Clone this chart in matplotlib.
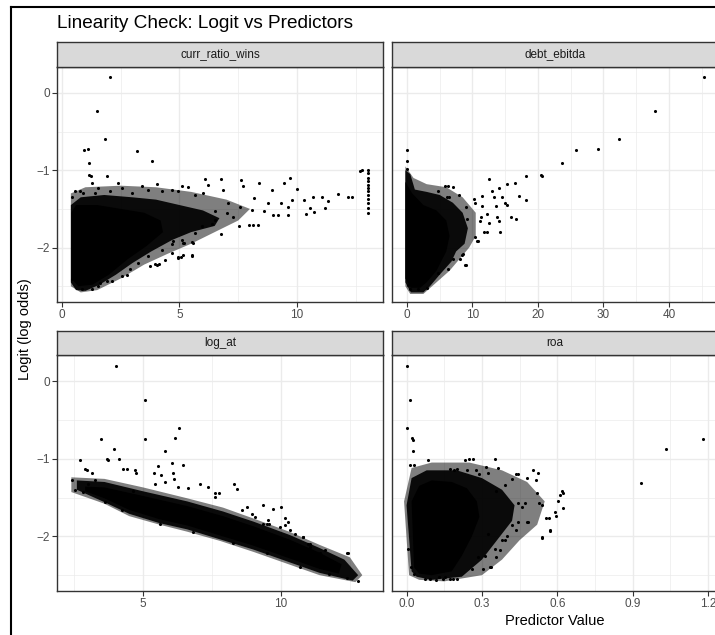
import numpy as np
import matplotlib.pyplot as plt
from matplotlib.lines import Line2D

plt.rcParams['font.family'] = ['Liberation Sans', 'DejaVu Sans']

# ---- data ----
panel_names = ["curr_ratio_wins", "debt_ebitda", "log_at", "roa"]

# clouds: solid core, dark speckled zone, sparse outer zone (outlines)
curr_ratio_core = [(0.40, -2.40), (0.40, -1.55), (0.6, -1.45), (1.5, -1.45), (2.5, -1.50),
                   (3.5, -1.55), (4.2, -1.65), (4.3, -1.80), (3.6, -1.98), (2.8, -2.15),
                   (2.0, -2.35), (1.3, -2.48), (0.7, -2.50)]
curr_ratio_halo = [(0.38, -2.45), (0.38, -1.45), (0.8, -1.35), (1.8, -1.32), (3.0, -1.35),
                   (4.0, -1.38), (5.0, -1.45), (6.0, -1.52), (6.7, -1.62), (6.5, -1.72),
                   (5.5, -1.80), (4.7, -1.90), (3.8, -2.05), (3.0, -2.20), (2.3, -2.35),
                   (1.6, -2.48), (1.0, -2.56), (0.6, -2.55)]
curr_ratio_outer = [(0.38, -2.50), (0.38, -1.30), (1.0, -1.22), (2.5, -1.20), (4.0, -1.22),
                    (5.5, -1.28), (7.0, -1.38), (8.0, -1.50), (7.5, -1.65), (6.5, -1.80),
                    (5.5, -1.95), (4.5, -2.08), (3.5, -2.22), (2.5, -2.40), (1.5, -2.55),
                    (0.8, -2.58)]
curr_ratio_points = [
    (2.04, 0.20), (1.48, -0.23), (1.83, -0.60), (0.95, -0.74), (1.10, -0.72), (1.16, -0.90),
    (3.19, -0.75), (3.84, -0.88), (1.16, -1.06), (1.23, -1.08), (1.90, -1.08),
    (12.68, -1.015), (12.75, -1.00),
    (13.03, -0.994), (13.03, -1.037), (13.03, -1.101), (13.03, -1.144), (13.03, -1.187),
    (13.03, -1.230), (13.03, -1.273), (13.03, -1.316), (13.03, -1.372), (13.03, -1.423),
    (13.03, -1.488), (13.03, -1.552),
    (6.09, -1.11), (6.76, -1.11), (7.61, -1.12), (8.38, -1.17), (9.46, -1.16), (9.70, -1.10),
    (9.98, -1.24), (8.92, -1.26), (7.72, -1.21), (6.86, -1.25), (6.23, -1.19), (11.73, -1.31),
    (12.18, -1.35), (12.33, -1.35), (10.70, -1.35), (11.05, -1.35), (11.30, -1.40),
    (10.31, -1.39), (9.80, -1.39), (9.32, -1.42), (9.63, -1.47), (8.78, -1.42), (8.19, -1.36),
    (8.07, -1.51), (8.61, -1.53), (8.99, -1.58), (9.18, -1.58), (9.63, -1.58), (10.37, -1.57),
    (10.55, -1.49), (10.74, -1.54), (11.19, -1.49), (8.33, -1.71), (8.14, -1.71), (7.97, -1.71),
    (7.55, -1.72), (7.29, -1.60), (7.01, -1.55), (6.77, -1.83), (7.57, -1.47), (7.08, -1.42),
    (6.51, -1.53), (5.52, -2.11), (5.07, -2.12), (4.95, -2.12), (4.67, -2.07), (4.13, -2.21),
    (3.96, -2.21), (4.38, -2.16), (5.52, -1.93), (5.20, -1.94),
    (2.40, -1.17), (2.54, -1.23), (3.42, -1.21), (4.03, -1.18), (4.67, -1.25), (5.09, -1.20),
    (5.38, -1.22), (1.55, -1.23), (1.26, -1.17), (0.41, -1.35), (0.77, -1.27),
    (0.55, -1.27), (0.91, -1.29), (1.40, -1.29), (2.04, -1.27), (2.96, -1.29), (3.67, -1.25),
    (4.24, -1.27), (4.95, -1.27), (5.66, -1.32), (6.01, -1.29),
    (6.51, -1.64), (6.37, -1.70), (5.94, -1.72), (5.66, -1.81), (5.09, -1.90), (4.67, -1.96),
    (4.24, -2.03), (3.67, -2.11), (3.25, -2.20), (2.89, -2.28), (2.54, -2.37), (2.11, -2.43),
    (1.55, -2.50), (1.26, -2.54), (0.84, -2.54), (0.41, -2.41), (1.62, -2.46), (1.90, -2.43),
    (2.75, -2.35), (3.74, -2.24), (4.03, -2.22), (4.95, -2.13), (5.16, -2.09), (5.52, -2.09),
    (5.59, -1.94), (5.16, -1.94), (4.74, -1.92)]

debt_ebitda_core = [(-0.25, -2.40), (-0.25, -1.15), (0.8, -1.30), (2.5, -1.45), (4.5, -1.52),
                    (6.0, -1.65), (6.5, -1.85), (6.0, -2.05), (4.5, -2.30), (3.0, -2.45),
                    (2.0, -2.52), (0.6, -2.52)]
debt_ebitda_halo = [(-0.25, -2.45), (-0.25, -1.0), (0.5, -1.05), (1.2, -1.25), (3.0, -1.28),
                    (5.0, -1.32), (7.0, -1.42), (8.5, -1.55), (9.3, -1.75), (8.8, -1.95),
                    (7.5, -2.05), (6.8, -2.18), (5.0, -2.35), (3.5, -2.50), (2.5, -2.58),
                    (0.6, -2.58)]
debt_ebitda_outer = [(-0.25, -2.50), (-0.25, -0.95), (1.0, -1.10), (3.0, -1.18), (6.0, -1.22),
                     (8.5, -1.35), (10.5, -1.55), (10.5, -1.85), (9.5, -2.00), (8.0, -2.15),
                     (6.5, -2.30), (4.5, -2.45), (2.5, -2.60), (0.5, -2.60)]
debt_ebitda_points = [
    (45.34, 0.20), (37.91, -0.23), (32.32, -0.59), (29.21, -0.72), (25.75, -0.74), (23.71, -0.90),
    (20.56, -1.08), (20.40, -1.06), (18.17, -1.08), (16.48, -1.17), (15.22, -1.18), (14.05, -1.23),
    (12.57, -1.11), (12.93, -1.27), (17.15, -1.33), (18.17, -1.38), (14.45, -1.35), (13.28, -1.35),
    (11.40, -1.33), (10.23, -1.37), (10.38, -1.43), (11.40, -1.46), (13.59, -1.46), (14.97, -1.42),
    (15.32, -1.45), (12.17, -1.57), (11.25, -1.60), (13.69, -1.61), (14.10, -1.65), (15.83, -1.60),
    (16.59, -1.63), (12.57, -1.68), (11.20, -1.66), (11.76, -1.80), (12.17, -1.80), (14.20, -1.80),
    (10.74, -1.92), (10.38, -1.86), (8.60, -2.08), (9.01, -2.22), (8.09, -2.15),
    (5.80, -1.21), (6.31, -1.20), (6.97, -1.22), (4.78, -1.27), (7.99, -1.32), (6.06, -1.35),
    (6.46, -1.35), (-0.05, -0.74), (-0.05, -0.88), (0.05, -0.99), (9.01, -1.47), (9.22, -1.63),
    (8.85, -2.22), (8.35, -2.09), (7.07, -2.15), (6.31, -2.28), (4.78, -2.33), (3.00, -2.52),
    (1.73, -2.54), (0.46, -2.54), (0.10, -2.48), (10.89, -1.92)]

log_at_core = [(2.9, -1.36), (3.6, -1.37), (5.0, -1.48), (6.6, -1.61), (7.9, -1.74), (9.0, -1.87),
               (10.3, -2.04), (11.4, -2.21), (12.2, -2.36), (12.1, -2.48), (11.4, -2.42),
               (10.2, -2.27), (9.0, -2.12), (7.8, -1.99), (6.6, -1.86), (5.6, -1.78),
               (4.5, -1.66), (3.6, -1.51), (2.9, -1.42)]
log_at_halo = [(2.6, -1.28), (3.6, -1.30), (5.0, -1.42), (6.6, -1.55), (7.9, -1.68), (9.0, -1.81),
               (10.3, -1.98), (11.4, -2.15), (12.3, -2.30), (12.8, -2.50), (12.6, -2.57),
               (11.4, -2.47), (10.2, -2.32), (9.0, -2.17), (7.8, -2.04), (6.6, -1.91),
               (5.6, -1.83), (4.5, -1.71), (3.6, -1.56), (2.6, -1.40)]
log_at_outer = [(2.4, -1.24), (3.6, -1.26), (5.0, -1.37), (6.6, -1.51), (7.9, -1.63), (9.0, -1.77),
                (10.3, -1.94), (11.4, -2.11), (12.5, -2.27), (12.95, -2.50), (12.7, -2.59),
                (11.4, -2.50), (10.2, -2.35), (9.0, -2.20), (7.8, -2.06), (6.6, -1.94),
                (5.6, -1.85), (4.5, -1.74), (3.6, -1.58), (2.4, -1.43)]
log_at_points = [
    (4.02, 0.19), (5.07, -0.24), (6.30, -0.60), (6.16, -0.73), (5.07, -0.75), (3.47, -0.75),
    (5.78, -0.90), (3.96, -0.88), (3.68, -1.00), (3.74, -1.02), (4.11, -1.01), (2.72, -1.02),
    (6.06, -1.06), (6.46, -1.08), (4.29, -1.13), (4.41, -1.13), (5.53, -1.10), (4.71, -1.15),
    (4.73, -1.18), (2.42, -1.28), (2.54, -1.40), (2.88, -1.13), (2.96, -1.15), (6.10, -1.18),
    (6.13, -1.26), (7.07, -1.32), (7.37, -1.36), (8.31, -1.33), (8.40, -1.39), (9.36, -1.60),
    (9.72, -1.65), (10.00, -1.62), (10.15, -1.76), (10.27, -1.82), (10.81, -2.01), (11.06, -2.10),
    (11.60, -2.18), (12.38, -2.22), (12.44, -2.22), (7.62, -1.49), (7.74, -1.44), (8.77, -1.62),
    (9.07, -1.75), (8.95, -1.71), (9.55, -1.84), (5.40, -1.19), (5.64, -1.21), (6.25, -1.36),
    (12.80, -2.57), (11.73, -2.48), (12.39, -2.54), (11.42, -2.22), (11.05, -2.14), (10.80, -2.01),
    (10.14, -1.86), (9.96, -1.88), (9.36, -1.84), (9.48, -1.84), (10.33, -1.92),
    (3.02, -1.32), (3.26, -1.28), (3.14, -1.19), (4.65, -1.41), (5.43, -1.32), (5.79, -1.30),
    (6.64, -1.38), (7.61, -1.44), (8.58, -1.66), (9.54, -1.79), (10.51, -1.97), (10.99, -2.10),
    (5.62, -1.84), (6.82, -1.94), (8.27, -2.09), (9.48, -2.22), (10.69, -2.40),
    (2.84, -1.43), (3.62, -1.56), (4.22, -1.66)]

roa_core = [(0.03, -2.40), (0.02, -1.55), (0.05, -1.35), (0.10, -1.28), (0.18, -1.30),
            (0.24, -1.38), (0.28, -1.55), (0.29, -1.75), (0.26, -2.00), (0.22, -2.25),
            (0.18, -2.45), (0.10, -2.50), (0.05, -2.48)]
roa_halo = [(0.02, -2.45), (0.00, -1.60), (0.02, -1.25), (0.08, -1.15), (0.20, -1.15),
            (0.30, -1.25), (0.38, -1.40), (0.43, -1.60), (0.42, -1.80), (0.36, -2.05),
            (0.30, -2.30), (0.22, -2.52), (0.10, -2.56), (0.04, -2.52)]
roa_outer = [(0.01, -2.50), (-0.01, -1.55), (0.02, -1.12), (0.10, -1.05), (0.25, -1.05),
             (0.38, -1.15), (0.48, -1.30), (0.55, -1.55), (0.52, -1.85), (0.45, -2.05),
             (0.38, -2.30), (0.30, -2.50), (0.15, -2.58), (0.05, -2.56)]
roa_points = [
    (0.000, 0.19), (0.013, -0.24), (0.003, -0.60), (0.020, -0.74), (0.024, -0.76), (0.024, -0.90),
    (1.18, -0.75), (1.033, -0.88), (0.933, -1.31), (0.086, -1.02), (0.013, -1.08), (0.030, -1.08),
    (0.248, -1.00), (0.265, -1.00), (0.232, -1.02), (0.352, -1.01), (0.318, -1.11), (0.365, -1.12),
    (0.199, -1.13), (0.172, -1.13), (0.188, -1.14), (0.239, -1.15), (0.275, -1.15), (0.289, -1.20),
    (0.325, -1.19), (0.436, -1.20), (0.445, -1.20), (0.502, -1.15), (0.522, -1.19), (0.478, -1.25),
    (0.515, -1.27), (0.418, -1.26), (0.392, -1.34), (0.358, -1.41), (0.617, -1.41), (0.624, -1.44),
    (0.611, -1.47), (0.604, -1.54), (0.624, -1.64), (0.528, -1.57), (0.541, -1.60), (0.591, -1.69),
    (0.595, -1.74), (0.555, -1.77), (0.568, -1.77), (0.571, -1.92), (0.540, -2.02), (0.471, -1.57),
    (0.484, -1.82), (0.518, -1.44), (0.445, -1.57), (0.458, -1.62), (0.435, -1.92), (0.392, -2.05),
    (0.372, -2.18), (0.358, -2.27), (0.538, -2.01), (0.571, -1.93), (0.478, -1.82), (0.445, -1.82),
    (0.418, -1.86), (0.325, -1.97), (0.312, -2.25), (0.332, -2.40), (0.305, -2.42), (0.335, -2.40),
    (0.259, -2.42), (0.199, -2.55), (0.186, -2.55), (0.073, -2.55), (0.093, -2.55), (0.119, -2.56),
    (0.146, -2.55), (0.172, -2.55), (0.130, -2.52), (0.155, -2.52), (0.006, -2.16), (0.019, -2.40),
    (0.030, -2.48), (0.378, -2.05), (0.398, -1.99), (0.352, -2.16), (0.285, -2.27)]

x_ticks = [[0, 5, 10], [0, 10, 20, 30, 40], [5, 10], [0.0, 0.3, 0.6, 0.9, 1.2]]
x_ticklabels = [["0", "5", "10"], ["0", "10", "20", "30", "40"], ["5", "10"],
                ["0.0", "0.3", "0.6", "0.9", "1.2"]]
x_minor = [[2.5, 7.5, 12.5], [5, 15, 25, 35, 45], [2.5, 7.5, 12.5], [0.15, 0.45, 0.75, 1.05]]
y_ticks = [0, -1, -2]
y_minor = [-0.5, -1.5, -2.5]

# ---- layout (pixels) ----
W, H = 715, 635
x_lims = [(-0.21, 13.66), (-2.29, 47.5), (1.88, 13.70), (-0.058, 1.24)]
y_lim = (-2.70, 0.335)
cols = [(57, 383), (392, 718)]
rows = [(67, 301.7), (355, 590.7)]
strips = [(42, 67), (331, 355)]

DARK = "#333333"
GRID = "#EBEBEB"


def px_rect(x0, y0, x1, y1):
    return [x0 / W, 1 - y1 / H, (x1 - x0) / W, (y1 - y0) / H]


fig = plt.figure(figsize=(W / 100, H / 100), dpi=100)
fig.patch.set_facecolor("white")

all_outer = [curr_ratio_outer, debt_ebitda_outer, log_at_outer, roa_outer]
all_halo = [curr_ratio_halo, debt_ebitda_halo, log_at_halo, roa_halo]
all_core = [curr_ratio_core, debt_ebitda_core, log_at_core, roa_core]
all_points = [curr_ratio_points, debt_ebitda_points, log_at_points, roa_points]

for i, name in enumerate(panel_names):
    r, c = divmod(i, 2)
    x0, x1 = cols[c]
    y0, y1 = rows[r]
    ax = fig.add_axes(px_rect(x0, y0, x1, y1))
    ax.set_xlim(*x_lims[i])
    ax.set_ylim(*y_lim)

    # cloud layers from sparse to solid, then the single points
    for poly, alpha, z in [(all_outer[i], 0.5, 2), (all_halo[i], 0.92, 3), (all_core[i], 1.0, 4)]:
        p = np.array(poly)
        ax.fill(p[:, 0], p[:, 1], color="black", alpha=alpha, lw=0, zorder=z)
    pts = np.array(all_points[i])
    ax.scatter(pts[:, 0], pts[:, 1], s=5, c="black", linewidths=0, zorder=5)

    ax.set_xticks(x_ticks[i])
    ax.set_xticklabels(x_ticklabels[i])
    ax.set_xticks(x_minor[i], minor=True)
    ax.set_yticks(y_ticks)
    ax.set_yticks(y_minor, minor=True)
    ax.grid(which="major", color=GRID, lw=1.0, zorder=0)
    ax.grid(which="minor", color=GRID, lw=0.5, zorder=0)
    ax.set_axisbelow(True)
    ax.tick_params(which="minor", length=0)
    ax.tick_params(which="major", length=3.3, width=0.8, color=DARK,
                   labelsize=8.5, labelcolor="#4D4D4D", pad=2)
    if c == 1:
        ax.tick_params(axis="y", left=False, labelleft=False)
    for sp in ax.spines.values():
        sp.set_color(DARK)
        sp.set_linewidth(1.0)

    # facet strip
    sy0, sy1 = strips[r]
    sax = fig.add_axes(px_rect(x0, sy0, x1, sy1))
    sax.set_facecolor("#D9D9D9")
    sax.set_xticks([])
    sax.set_yticks([])
    for sp in sax.spines.values():
        sp.set_color(DARK)
        sp.set_linewidth(1.0)
    sax.text(0.5, 0.5, name, transform=sax.transAxes, ha="center", va="center",
             fontsize=8.5, color="#1A1A1A")

fig.text(57 / W, 1 - 23 / H, "Linearity Check: Logit vs Predictors", fontsize=13.7,
         ha="left", va="center", color="black")
fig.text(555 / W, 1 - 621 / H, "Predictor Value", fontsize=10.5, ha="center", va="center")
fig.text(25 / W, 1 - 329 / H, "Logit (log odds)", fontsize=10.5, rotation=90,
         ha="center", va="center")

# frame of the screenshot
fig.add_artist(Line2D([11 / W, 11 / W], [0, 1 - 6.5 / H], color="black", lw=1.5))
fig.add_artist(Line2D([11 / W, 1], [1 - 6.5 / H, 1 - 6.5 / H], color="black", lw=1.5))

fig.savefig("out.png", dpi=100)
